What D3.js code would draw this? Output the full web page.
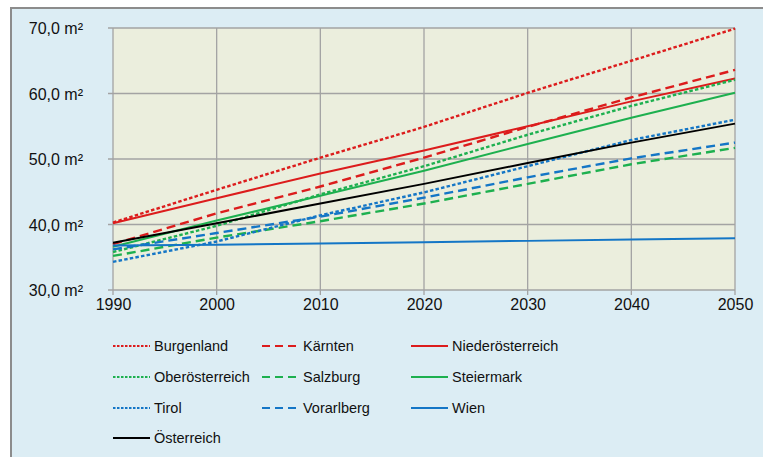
<!DOCTYPE html>
<html>
<head>
<meta charset="utf-8">
<script src="https://cdn.jsdelivr.net/npm/d3@7"></script>
<style>
  body { margin: 0; background: #fff; }
  text { font-family: "Liberation Sans", Arial, sans-serif; fill: #111; }
</style>
</head>
<body>
<div id="chart"></div>
<script>
var years = [1990, 2000, 2010, 2020, 2030, 2040, 2050];
var yTicks = [30, 40, 50, 60, 70];

var burgenland       = [40.3, 45.3, 50.2, 54.9, 60.1, 65.0, 69.9];
var kaernten         = [37.0, 41.7, 45.8, 50.2, 54.9, 59.4, 63.6];
var niederoesterreich= [40.2, 44.0, 47.8, 51.3, 55.0, 58.8, 62.3];
var oberoesterreich  = [35.8, 39.8, 44.6, 48.9, 53.7, 58.1, 62.1];
var salzburg         = [35.2, 38.0, 40.5, 43.2, 46.2, 49.2, 51.7];
var steiermark       = [36.6, 40.6, 44.4, 48.2, 52.3, 56.3, 60.1];
var tirol            = [34.3, 37.4, 41.4, 44.9, 48.9, 52.9, 56.0];
var vorarlberg       = [36.2, 38.7, 41.2, 44.1, 47.2, 50.1, 52.5];
var wien             = [36.8, 36.9, 37.1, 37.3, 37.5, 37.7, 37.9];
var oesterreich      = [37.2, 40.2, 43.2, 46.2, 49.4, 52.5, 55.4];

var red = "#dc1c1c", green = "#1db04f", blue = "#1476c6";

var series = [
  {name: "Burgenland", values: burgenland, color: red, dash: "3.5,2.2"},
  {name: "Kärnten", values: kaernten, color: red, dash: "9,5"},
  {name: "Niederösterreich", values: niederoesterreich, color: red, dash: null},
  {name: "Oberösterreich", values: oberoesterreich, color: green, dash: "3.5,2.2"},
  {name: "Salzburg", values: salzburg, color: green, dash: "9,5"},
  {name: "Steiermark", values: steiermark, color: green, dash: null},
  {name: "Tirol", values: tirol, color: blue, dash: "3.5,2.2"},
  {name: "Vorarlberg", values: vorarlberg, color: blue, dash: "9,5"},
  {name: "Wien", values: wien, color: blue, dash: null},
  {name: "Österreich", values: oesterreich, color: "#000", dash: null}
];

var W = 763, H = 457;
var svg = d3.select("#chart").append("svg")
    .attr("width", W)
    .attr("height", H);

// outer frame
svg.append("rect")
    .attr("x", 11).attr("y", 8)
    .attr("width", W - 11 + 5).attr("height", H)
    .attr("fill", "#dcedf4")
    .attr("stroke", "#8c8c8c")
    .attr("stroke-width", 2);

var pLeft = 113, pRight = 735, pTop = 28, pBottom = 290;

var x = d3.scaleLinear().domain([1990, 2050]).range([pLeft, pRight]);
var y = d3.scaleLinear().domain([30, 70]).range([pBottom, pTop]);

svg.append("rect")
    .attr("x", pLeft).attr("y", pTop)
    .attr("width", pRight - pLeft).attr("height", pBottom - pTop)
    .attr("fill", "#ebeedd");

// grid
svg.append("g").selectAll("line")
    .data(yTicks)
    .enter().append("line")
    .attr("x1", pLeft - 5).attr("x2", pRight)
    .attr("y1", function (d) { return y(d); })
    .attr("y2", function (d) { return y(d); })
    .attr("stroke", "#a3a3a3")
    .attr("stroke-width", 1.3);

svg.append("g").selectAll("line")
    .data(years)
    .enter().append("line")
    .attr("x1", function (d) { return x(d); })
    .attr("x2", function (d) { return x(d); })
    .attr("y1", pTop).attr("y2", pBottom + 5)
    .attr("stroke", "#a3a3a3")
    .attr("stroke-width", 1.3);

// axes labels
var yAxis = d3.axisLeft(y).tickValues(yTicks).tickSize(0).tickPadding(0)
    .tickFormat(function (d) { return d3.format(".1f")(d).replace(".", ",") + " m²"; });
var gy = svg.append("g").attr("transform", "translate(" + 83 + ",0)").call(yAxis);
gy.select(".domain").remove();
gy.selectAll("text")
    .style("font-size", "16px")
    .attr("dy", "0.35em")
    .style("font-family", "Liberation Sans, Arial, sans-serif")
    .attr("fill", "#111");

var xAxis = d3.axisBottom(x).tickValues(years).tickSize(0).tickPadding(0)
    .tickFormat(d3.format("d"));
var gx = svg.append("g").attr("transform", "translate(0," + 298 + ")").call(xAxis);
gx.select(".domain").remove();
gx.selectAll("text")
    .style("font-size", "16px")
    .attr("dy", "0.75em")
    .style("font-family", "Liberation Sans, Arial, sans-serif")
    .attr("fill", "#111");

// lines
var line = d3.line()
    .x(function (d, i) { return x(years[i]); })
    .y(function (d) { return y(d); });

svg.append("g").selectAll("path")
    .data(series)
    .enter().append("path")
    .attr("d", function (d) { return line(d.values); })
    .attr("fill", "none")
    .attr("stroke", function (d) { return d.color; })
    .attr("stroke-width", function (d) { return d.dash ? 2.4 : 2; })
    .attr("stroke-dasharray", function (d) { return d.dash; });

// legend
var colX = [113, 262, 411];
var rowY = [346, 377, 408, 438];

var leg = svg.append("g").selectAll("g")
    .data(series)
    .enter().append("g")
    .attr("transform", function (d, i) {
        return "translate(" + colX[i % 3] + "," + rowY[Math.floor(i / 3)] + ")";
    });

leg.append("line")
    .attr("x1", 0).attr("x2", 37)
    .attr("y1", 0).attr("y2", 0)
    .attr("stroke", function (d) { return d.color; })
    .attr("stroke-width", 2)
    .attr("stroke-dasharray", function (d) { return d.dash === "9,5" ? "8,5" : (d.dash ? "2.5,1.5" : null); });

leg.append("text")
    .attr("x", 41)
    .attr("dy", "0.35em")
    .style("font-size", "14.5px")
    .text(function (d) { return d.name; });
</script>
</body>
</html>
